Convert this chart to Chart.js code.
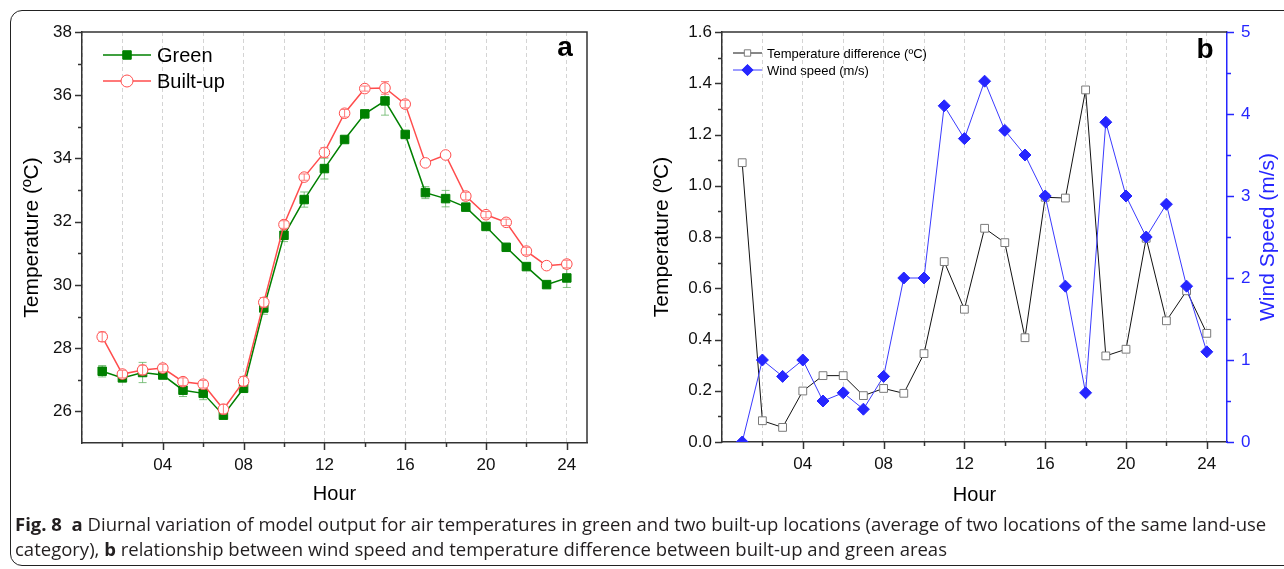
<!DOCTYPE html>
<html><head><meta charset="utf-8">
<script src="https://cdn.jsdelivr.net/npm/chart.js@4"></script>
<style>
html,body{margin:0;padding:0;background:#fff;}
body{width:1284px;height:569px;position:relative;overflow:hidden;font-family:'Liberation Sans',Arial,sans-serif;}
#frame{position:absolute;left:10px;top:10px;width:1300px;height:556px;border:1.5px solid #222;border-radius:12px;box-sizing:border-box;}
#ca{position:absolute;left:0;top:0;}
#cb{position:absolute;left:640px;top:0;}
.cap{position:absolute;left:15px;white-space:nowrap;font-family:'Open Sans',sans-serif;font-size:18px;line-height:25px;height:25px;color:#231f20;transform-origin:0 50%;}
.cap b{font-weight:700;}
</style>
</head><body>
<div id="frame"></div>
<canvas id="ca" width="640" height="515"></canvas>
<canvas id="cb" width="644" height="515"></canvas>
<div class="cap" id="cap1" style="top:512px"><b>Fig. 8</b>&nbsp; <b>a</b> Diurnal variation of model output for air temperatures in green and two built-up locations (average of two locations of the same land-use</div>
<div class="cap" id="cap2" style="top:537px">category), <b>b</b> relationship between wind speed and temperature difference between built-up and green areas</div>
<script>
// ---------------- DATA ----------------
const hours = [1,2,3,4,5,6,7,8,9,10,11,12,13,14,15,16,17,18,19,20,21,22,23,24];
const greenTemp = [27.27,27.06,27.23,27.15,26.67,26.57,25.88,26.73,29.27,31.57,32.70,33.68,34.60,35.41,35.82,34.76,32.92,32.73,32.46,31.85,31.19,30.58,30.01,30.22];
const greenErr  = [0.18,0.08,0.32,0.10,0.20,0.20,0.05,0.10,0.20,0.20,0.24,0.33,0.05,0.05,0.45,0.08,0.19,0.26,0.05,0.05,0.05,0.05,0.05,0.30];
const builtTemp = [28.36,27.18,27.31,27.37,26.94,26.86,26.07,26.95,29.45,31.91,33.41,34.19,35.43,36.21,36.23,35.72,33.86,34.11,32.81,32.22,31.98,31.07,30.61,30.66];
const builtErr  = [0.15,0.12,0.15,0.12,0.12,0.12,0.15,0.15,0.15,0.12,0.10,0.15,0.12,0.08,0.20,0.12,0.00,0.00,0.12,0.10,0.10,0.12,0.00,0.12];
const tempDiff  = [1.090,0.083,0.057,0.199,0.259,0.259,0.181,0.209,0.190,0.345,0.704,0.518,0.834,0.778,0.407,0.955,0.952,1.374,0.336,0.362,0.795,0.473,0.590,0.424];
const windSpeed = [0.0,1.0,0.8,1.0,0.5,0.6,0.4,0.8,2.0,2.0,4.1,3.7,4.4,3.8,3.5,3.0,1.9,0.6,3.9,3.0,2.5,2.9,1.9,1.1];
const hourTickLabels = ['04','08','12','16','20','24'];
const tempTickLabels = ['26','28','30','32','34','36','38'];
const diffTickLabels = ['0.0','0.2','0.4','0.6','0.8','1.0','1.2','1.4','1.6'];
const windTickLabels = ['0','1','2','3','4','5'];
const seriesNamesA = ['Green','Built-up'];
const seriesNamesB = ['Temperature difference (\u00BAC)','Wind speed (m/s)'];

// ---------------- HELPERS ----------------
const FONT = "'Liberation Sans', Arial, sans-serif";
const BLUE = '#2626ff';
function pts(xs, ys){ return xs.map((x,i)=>({x:x, y:ys[i]})); }
function labelFrom(list){ return v => { const f = list.find(l => Math.abs(Number(l) - v) < 1e-6); return f === undefined ? '' : f; }; }

function drawMarker(ctx, style, x, y, r, fill, stroke, lw){
  ctx.save();
  ctx.beginPath();
  if (style === 'rect'){ const s = r*Math.SQRT1_2; ctx.rect(x-s, y-s, 2*s, 2*s); }
  else if (style === 'rectRot'){ ctx.moveTo(x, y-r); ctx.lineTo(x+r, y); ctx.lineTo(x, y+r); ctx.lineTo(x-r, y); ctx.closePath(); }
  else { ctx.arc(x, y, r, 0, Math.PI*2); }
  ctx.fillStyle = fill; ctx.fill();
  ctx.lineWidth = lw; ctx.strokeStyle = stroke; ctx.stroke();
  ctx.restore();
}

const tickMarks = {
  id: 'tickMarks',
  afterDraw(chart){
    const ctx = chart.ctx;
    Object.values(chart.scales).forEach(s => {
      const pos = s.options.position;
      ctx.save();
      ctx.strokeStyle = s.options.border.color;
      ctx.lineWidth = 1.5;
      s.ticks.forEach(t => {
        const major = t.label !== '' && t.label != null;
        if (!major && (Math.abs(t.value - s.min) < 1e-9 || Math.abs(t.value - s.max) < 1e-9)) return;
        const len = major ? 7 : 4;
        const p = Math.round(s.getPixelForValue(t.value)) + 0.5;
        ctx.beginPath();
        if (pos === 'bottom'){ ctx.moveTo(p, s.top); ctx.lineTo(p, s.top + len); }
        else if (pos === 'left'){ ctx.moveTo(s.right, p); ctx.lineTo(s.right - len, p); }
        else { ctx.moveTo(s.left, p); ctx.lineTo(s.left + len, p); }
        ctx.stroke();
      });
      ctx.restore();
    });
  }
};

const errorBars = {
  id: 'errorBars',
  drawErr(chart, index){
    const ds = chart.data.datasets[index];
    if (!ds.errors) return;
    const ctx = chart.ctx, xs = chart.scales[ds.xAxisID || 'x'], ys = chart.scales[ds.yAxisID || 'y'];
    ctx.save();
    ctx.strokeStyle = ds.errorColor; ctx.lineWidth = 1;
    ds.data.forEach((d, i) => {
      const e = ds.errors[i]; if (!e) return;
      const px = xs.getPixelForValue(d.x), y1 = ys.getPixelForValue(d.y + e), y2 = ys.getPixelForValue(d.y - e);
      ctx.beginPath();
      ctx.moveTo(px, y1); ctx.lineTo(px, y2);
      ctx.moveTo(px-4, y1); ctx.lineTo(px+4, y1);
      ctx.moveTo(px-4, y2); ctx.lineTo(px+4, y2);
      ctx.stroke();
    });
    ctx.restore();
  },
  beforeDatasetDraw(chart, args){ const ds = chart.data.datasets[args.index]; if (ds.errors && !ds.errorOnTop) this.drawErr(chart, args.index); },
  afterDatasetDraw(chart, args){ const ds = chart.data.datasets[args.index]; if (ds.errors && ds.errorOnTop) this.drawErr(chart, args.index); }
};

function makeDecor(cfg){
  return {
    id: 'decor',
    afterDraw(chart){
      const ctx = chart.ctx, a = chart.chartArea;
      ctx.save();
      ctx.strokeStyle = '#333'; ctx.lineWidth = 1.5;
      ctx.beginPath();
      ctx.moveTo(a.left, a.top); ctx.lineTo(a.right, a.top);
      if (cfg.rightFrame) ctx.lineTo(a.right, a.bottom);
      ctx.stroke();
      ctx.fillStyle = '#000'; ctx.font = "bold 28px " + FONT; ctx.textAlign = 'center'; ctx.textBaseline = 'middle';
      ctx.fillText(cfg.letter, cfg.letterX, cfg.letterY);
      cfg.legend.items.forEach((it, k) => {
        const ds = chart.data.datasets[it.ds];
        const y = cfg.legend.y0 + k*cfg.legend.dy;
        ctx.strokeStyle = ds.borderColor; ctx.lineWidth = ds.borderWidth;
        ctx.beginPath(); ctx.moveTo(cfg.legend.x1, y); ctx.lineTo(cfg.legend.x2, y); ctx.stroke();
        drawMarker(ctx, ds.pointStyle, (cfg.legend.x1+cfg.legend.x2)/2, y, cfg.legend.r * (ds.pointStyle==='rectRot'?1.25:1), ds.pointBackgroundColor, ds.pointBorderColor, 1);
        ctx.fillStyle = '#000'; ctx.font = cfg.legend.font; ctx.textAlign = 'left'; ctx.textBaseline = 'middle';
        ctx.fillText(ds.label, cfg.legend.tx, y + 1);
      });
      if (cfg.rightTitle){
        ctx.save();
        ctx.translate(cfg.rightTitle.x, (a.top + a.bottom)/2);
        ctx.rotate(-Math.PI/2);
        ctx.fillStyle = BLUE; ctx.font = "21px " + FONT; ctx.textAlign = 'center'; ctx.textBaseline = 'middle';
        ctx.fillText(cfg.rightTitle.text, 0, 0);
        ctx.restore();
      }
      ctx.restore();
    }
  };
}

function xScale(titleBottomPad, axisH){
  return {
    type: 'linear', position: 'bottom', min: 0, max: 25,
    afterFit: s => { s.height = axisH; },
    grid: { color: '#d4d4d4', lineWidth: 1, drawTicks: false },
    border: { display: true, color: '#333', width: 1.5, dash: [4, 3] },
    ticks: { stepSize: 2, includeBounds: false, autoSkip: false, maxRotation: 0, padding: 12, color: '#111', font: { family: FONT, size: 17 }, callback: labelFrom(hourTickLabels) },
    title: { display: true, text: 'Hour', color: '#000', font: { family: FONT, size: 20 }, padding: { top: 0, bottom: titleBottomPad } }
  };
}

// ---------------- CHART A ----------------
new Chart(document.getElementById('ca'), {
  type: 'line',
  data: { datasets: [
    { label: seriesNamesA[0], data: pts(hours, greenTemp), errors: greenErr, errorColor: 'rgba(90,175,90,0.75)', errorOnTop: false,
      borderColor: '#008000', backgroundColor: '#008000', borderWidth: 1.5, pointStyle: 'rect', pointRadius: 6,
      pointBackgroundColor: '#008000', pointBorderColor: '#008000', pointBorderWidth: 1, order: 1, tension: 0 },
    { label: seriesNamesA[1], data: pts(hours, builtTemp), errors: builtErr, errorColor: 'rgba(255,110,110,0.9)', errorOnTop: true,
      borderColor: '#ff4d4d', backgroundColor: '#ffffff', borderWidth: 1.5, pointStyle: 'circle', pointRadius: 5.3,
      pointBackgroundColor: '#ffffff', pointBorderColor: '#ff4d4d', pointBorderWidth: 1, order: 0, tension: 0 }
  ]},
  options: {
    responsive: false, animation: false,
    layout: { padding: { top: 32, right: 53, left: 0, bottom: 0 } },
    plugins: { legend: { display: false }, tooltip: { enabled: false } },
    scales: {
      x: xScale(9, 72),
      y: {
        type: 'linear', position: 'left', min: 25, max: 38,
        afterFit: s => { s.width = 82; },
        grid: { drawOnChartArea: false, drawTicks: false },
        border: { display: true, color: '#333', width: 1.5 },
        ticks: { stepSize: 1, autoSkip: false, padding: 10, color: '#111', font: { family: FONT, size: 17 }, callback: labelFrom(tempTickLabels) },
        title: { display: true, text: 'Temperature (\u00BAC)', color: '#000', font: { family: FONT, size: 21 }, padding: { top: 20, bottom: 0 } }
      }
    }
  },
  plugins: [errorBars, tickMarks, makeDecor({
    rightFrame: true, letter: 'a', letterX: 565, letterY: 48,
    legend: { x1: 103, x2: 151, tx: 157, y0: 55, dy: 26, r: 6, font: "20px " + FONT, items: [{ds:0},{ds:1}] }
  })]
});

// ---------------- CHART B ----------------
new Chart(document.getElementById('cb'), {
  type: 'line',
  data: { datasets: [
    { label: seriesNamesB[0], data: pts(hours, tempDiff), yAxisID: 'y',
      borderColor: '#111', backgroundColor: '#fff', borderWidth: 1, pointStyle: 'rect', pointRadius: 5.5,
      pointBackgroundColor: '#ffffff', pointBorderColor: '#7a7a7a', pointBorderWidth: 1, order: 1, tension: 0 },
    { label: seriesNamesB[1], data: pts(hours, windSpeed), yAxisID: 'y2',
      borderColor: '#3a3aff', backgroundColor: BLUE, borderWidth: 1, pointStyle: 'rectRot', pointRadius: 6,
      pointBackgroundColor: BLUE, pointBorderColor: BLUE, pointBorderWidth: 1, order: 0, tension: 0 }
  ]},
  options: {
    responsive: false, animation: false,
    layout: { padding: { top: 32, right: 0, left: 0, bottom: 0 } },
    plugins: { legend: { display: false }, tooltip: { enabled: false } },
    scales: {
      x: xScale(8, 73),
      y: {
        type: 'linear', position: 'left', min: 0, max: 1.6,
        afterFit: s => { s.width = 82; },
        grid: { drawOnChartArea: false, drawTicks: false },
        border: { display: true, color: '#333', width: 1.5 },
        ticks: { stepSize: 0.1, autoSkip: false, padding: 10, color: '#111', font: { family: FONT, size: 17 }, callback: labelFrom(diffTickLabels) },
        title: { display: true, text: 'Temperature (\u00BAC)', color: '#000', font: { family: FONT, size: 21 }, padding: { top: 10, bottom: 0 } }
      },
      y2: {
        type: 'linear', position: 'right', min: 0, max: 5,
        afterFit: s => { s.width = 57; },
        grid: { drawOnChartArea: false, drawTicks: false },
        border: { display: true, color: BLUE, width: 1.5 },
        ticks: { stepSize: 0.5, autoSkip: false, padding: 14, color: BLUE, font: { family: FONT, size: 17 }, callback: labelFrom(windTickLabels) },
        title: { display: false }
      }
    }
  },
  plugins: [tickMarks, makeDecor({
    rightFrame: false, letter: 'b', letterX: 565, letterY: 50,
    legend: { x1: 93, x2: 122, tx: 127, y0: 53, dy: 17, r: 4.5, font: "13px " + FONT, items: [{ds:0},{ds:1}] },
    rightTitle: { x: 628, text: 'Wind Speed (m/s)' }
  })]
});

// ---------------- CAPTION FIT ----------------
function fitCaption(){
  const c1 = document.getElementById('cap1'), c2 = document.getElementById('cap2');
  c1.style.transform = c2.style.transform = 'none';
  const w = c1.scrollWidth;
  const k = 1251 / w;
  c1.style.transform = c2.style.transform = 'scaleX(' + k + ')';
}
fitCaption();
if (document.fonts && document.fonts.ready) document.fonts.ready.then(fitCaption);
</script>
</body></html>
